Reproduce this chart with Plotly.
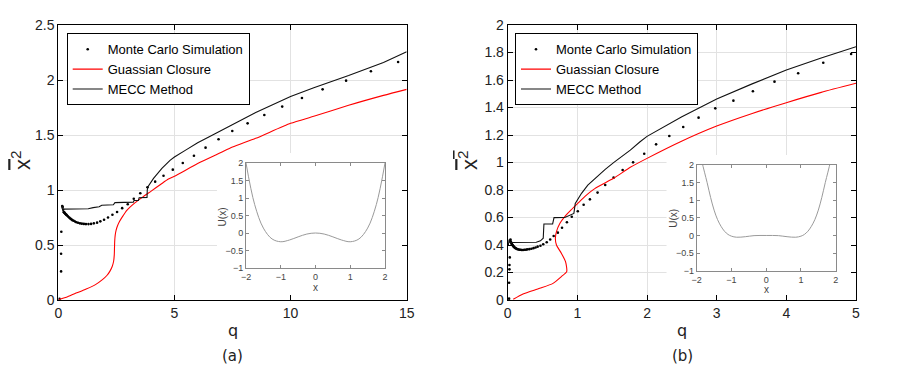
import plotly.graph_objects as go

# ---- panel (a) ----
q_mc_a = [0.05, 0.12, 0.12, 0.13, 0.17, 0.19, 0.21, 0.23, 0.25, 0.27, 0.29, 0.31, 0.34, 0.37, 0.40,
          0.44, 0.48, 0.52, 0.56, 0.61, 0.66, 0.72, 0.78, 0.85, 0.93, 1.01, 1.10, 1.19, 1.30, 1.41,
          1.53, 1.67, 1.81, 1.97, 2.14, 2.33, 2.53, 2.75, 2.99, 3.25, 3.53, 3.84, 4.17, 4.53, 4.93,
          5.36, 5.84, 6.34, 6.90, 7.49, 8.15, 8.87, 9.64, 10.49, 11.38, 12.39, 13.46, 14.63]
v_mc_a = [0.01, 0.26, 0.42, 0.62, 0.855, 0.845, 0.82, 0.80, 0.797, 0.792, 0.787, 0.782, 0.776, 0.77, 0.763,
          0.755, 0.747, 0.74, 0.733, 0.726, 0.72, 0.713, 0.707, 0.702, 0.697, 0.694, 0.692, 0.69, 0.69, 0.692,
          0.697, 0.703, 0.715, 0.73, 0.75, 0.775, 0.80, 0.835, 0.87, 0.92, 0.97, 1.025, 1.076, 1.13, 1.185,
          1.245, 1.312, 1.385, 1.461, 1.536, 1.606, 1.682, 1.758, 1.836, 1.915, 1.994, 2.079, 2.164]

q_gc_a = [0.03, 0.4, 0.8, 1.2, 1.6, 1.9, 2.1, 2.23, 2.32, 2.38, 2.41, 2.42, 2.43, 2.45, 2.49, 2.55,
          2.64, 2.77, 2.95, 3.31, 3.66, 4.0, 4.4, 4.74, 5.0, 6.0, 7.0, 7.5, 8.5, 10.0, 11.0, 12.5, 14.0, 15.0]
v_gc_a = [0.005, 0.03, 0.065, 0.1, 0.14, 0.185, 0.225, 0.265, 0.305, 0.35, 0.41, 0.48, 0.54, 0.59, 0.635, 0.675,
          0.715, 0.76, 0.815, 0.885, 0.94, 0.99, 1.05, 1.10, 1.125, 1.24, 1.34, 1.39, 1.47, 1.606, 1.67, 1.77, 1.86, 1.915]

q_me_a = [0.15, 0.17, 0.2, 0.5, 1.0, 1.29, 1.5, 1.76, 1.87, 2.3, 2.37, 2.44, 2.8, 3.23, 3.26, 3.45,
          3.48, 3.82, 3.83, 3.86, 4.1, 4.46, 4.81, 5.0, 5.5, 6.0, 6.5, 7.0, 7.5, 8.5, 10.0, 11.0, 12.5, 14.0, 15.0]
v_me_a = [0.83, 0.855, 0.826, 0.826, 0.827, 0.83, 0.84, 0.848, 0.862, 0.864, 0.866, 0.885, 0.886, 0.89, 0.905, 0.906,
          0.93, 0.933, 1.0, 1.03, 1.106, 1.197, 1.27, 1.30, 1.365, 1.43, 1.485, 1.54, 1.60, 1.705, 1.85, 1.93,
          2.04, 2.16, 2.257]

# ---- panel (b) ----
q_mc_b = [0.02, 0.02, 0.025, 0.025, 0.03, 0.035, 0.04, 0.044, 0.048, 0.053, 0.057, 0.062, 0.068, 0.074, 0.08,
          0.087, 0.095, 0.103, 0.112, 0.122, 0.133, 0.144, 0.157, 0.17, 0.185, 0.20, 0.22, 0.24, 0.26, 0.28,
          0.31, 0.34, 0.37, 0.40, 0.43, 0.47, 0.51, 0.56, 0.61, 0.66, 0.72, 0.78, 0.85, 0.92, 1.006,
          1.09, 1.18, 1.29, 1.40, 1.52, 1.65, 1.80, 1.96, 2.13, 2.32, 2.52, 2.74, 2.98, 3.24, 3.52,
          3.83, 4.17, 4.53, 4.93]
v_mc_b = [0.01, 0.126, 0.223, 0.255, 0.31, 0.43, 0.44, 0.425, 0.42, 0.415, 0.41, 0.405, 0.40, 0.396, 0.392,
          0.388, 0.384, 0.38, 0.377, 0.374, 0.371, 0.369, 0.367, 0.366, 0.365, 0.364, 0.364, 0.365, 0.366, 0.368,
          0.37, 0.373, 0.377, 0.382, 0.388, 0.395, 0.405, 0.42, 0.44, 0.465, 0.49, 0.525, 0.565, 0.605, 0.645,
          0.693, 0.732, 0.781, 0.836, 0.89, 0.945, 1.001, 1.064, 1.132, 1.193, 1.258, 1.326, 1.394, 1.45, 1.518,
          1.588, 1.649, 1.726, 1.789]

q_gc_b = [0.08, 0.22, 0.46, 0.65, 0.77, 0.847, 0.83, 0.77, 0.70, 0.684, 0.70, 0.75, 0.82, 0.91, 1.02,
          1.106, 1.25, 1.52, 1.76, 2.0, 2.48, 3.0, 3.5, 4.0, 4.5, 5.0]
v_gc_b = [0.005, 0.044, 0.085, 0.121, 0.17, 0.206, 0.279, 0.34, 0.40, 0.445, 0.497, 0.558, 0.606, 0.655, 0.71,
          0.752, 0.81, 0.885, 0.965, 1.03, 1.151, 1.265, 1.355, 1.435, 1.51, 1.576]

q_me_b = [0.01, 0.02, 0.03, 0.05, 0.41, 0.47, 0.51, 0.52, 0.645, 0.665, 0.82, 0.95, 0.97, 1.06, 1.15,
          1.28, 1.4, 1.52, 1.64, 1.76, 1.90, 2.0, 2.5, 3.0, 3.5, 4.0, 4.5, 5.0]
v_me_b = [0.40, 0.44, 0.42, 0.418, 0.42, 0.43, 0.449, 0.553, 0.553, 0.599, 0.60, 0.63, 0.703, 0.776, 0.836,
          0.897, 0.95, 0.999, 1.045, 1.09, 1.151, 1.19, 1.333, 1.462, 1.57, 1.673, 1.76, 1.842]

# ---- insets: potential U(x) ----
x_pot = [-2.0, -1.75, -1.5, -1.25, -1.0, -0.75, -0.5, -0.25, 0.0, 0.25, 0.5, 0.75, 1.0, 1.25, 1.5, 1.75, 2.0]
u_pot_a = [2.0, 0.81, 0.14, -0.17, -0.25, -0.20, -0.11, -0.03, 0.0, -0.03, -0.11, -0.20, -0.25, -0.17, 0.14, 0.81, 2.0]
x_pot_b = [-1.95, -1.85, -1.7, -1.6, -1.5, -1.4, -1.3, -1.2, -1.1, -1.0, -0.85, -0.6, -0.35, 0.0,
           0.35, 0.6, 0.85, 1.0, 1.1, 1.2, 1.3, 1.4, 1.5, 1.6, 1.7, 1.85, 1.95]
u_pot_b = [2.6, 2.1, 1.5, 1.08, 0.72, 0.45, 0.26, 0.12, 0.03, -0.02, -0.05, -0.035, -0.005, 0.0,
           -0.005, -0.035, -0.05, -0.02, 0.03, 0.12, 0.26, 0.45, 0.72, 1.08, 1.5, 2.1, 2.6]

names = ["Monte Carlo Simulation", "Guassian Closure", "MECC Method"]
RED = "#ff0000"
BLK = "#111111"

W, H, OFF = 900, 367, 8   # page body adds 8px, so place things 8px up/left


def px(x):
    return (x - OFF) / W


def py(y):
    return 1 - (y - OFF) / H


fig = go.Figure()
for (xa, ya, leg, mc, gc, me) in [
    ("x", "y", "legend", (q_mc_a, v_mc_a), (q_gc_a, v_gc_a), (q_me_a, v_me_a)),
    ("x2", "y2", "legend2", (q_mc_b, v_mc_b), (q_gc_b, v_gc_b), (q_me_b, v_me_b)),
]:
    fig.add_trace(go.Scatter(x=mc[0], y=mc[1], mode="markers", name=names[0], legend=leg,
                             marker=dict(color="black", size=2.6), xaxis=xa, yaxis=ya))
    fig.add_trace(go.Scatter(x=gc[0], y=gc[1], mode="lines", name=names[1], legend=leg,
                             line=dict(color=RED, width=1.1, shape="spline", smoothing=0.6), xaxis=xa, yaxis=ya))
    fig.add_trace(go.Scatter(x=me[0], y=me[1], mode="lines", name=names[2], legend=leg,
                             line=dict(color=BLK, width=1.1), xaxis=xa, yaxis=ya))

fig.add_trace(go.Scatter(x=x_pot, y=u_pot_a, mode="lines", line=dict(color="#9a9a9a", width=1, shape="spline"),
                         showlegend=False, xaxis="x3", yaxis="y3"))
fig.add_trace(go.Scatter(x=x_pot_b, y=u_pot_b, mode="lines", line=dict(color="#9a9a9a", width=1, shape="spline"),
                         showlegend=False, xaxis="x4", yaxis="y4"))

main_ax = dict(showline=True, linecolor="black", linewidth=1, mirror="ticks", ticks="inside", ticklen=5,
               tickcolor="black", showgrid=True, gridcolor="#e2e2e2", gridwidth=1, zeroline=False,
               automargin=False, tickfont=dict(family="Liberation Sans", size=14, color="#222222"))
ins_ax = dict(showline=True, linecolor="#8a8a8a", linewidth=1, mirror="ticks", ticks="inside", ticklen=3,
              tickcolor="#8a8a8a", showgrid=False, zeroline=False, automargin=False,
              tickfont=dict(family="Liberation Sans", size=9, color="#444444"))

leg_style = dict(xanchor="left", yanchor="top", bordercolor="black", borderwidth=1, bgcolor="white",
                 font=dict(family="Liberation Sans", size=13, color="black"), tracegroupgap=0, itemwidth=30)

fig.update_layout(
    width=W, height=H, margin=dict(l=0, r=0, t=0, b=0, autoexpand=False),
    paper_bgcolor="white", plot_bgcolor="white",
    xaxis=dict(main_ax, domain=[px(58.3), px(406.7)], range=[0, 15], dtick=5, anchor="y"),
    yaxis=dict(main_ax, domain=[py(300), py(25)], range=[0, 2.5], dtick=0.5, anchor="x"),
    xaxis2=dict(main_ax, domain=[px(507.7), px(856)], range=[0, 5], dtick=1, anchor="y2"),
    yaxis2=dict(main_ax, domain=[py(300), py(25)], range=[0, 2], dtick=0.2, anchor="x2"),
    xaxis3=dict(ins_ax, domain=[px(246), px(385)], range=[-2, 2], dtick=1, anchor="y3"),
    yaxis3=dict(ins_ax, domain=[py(268), py(163)], range=[-1, 2], dtick=0.5, anchor="x3"),
    xaxis4=dict(ins_ax, domain=[px(696.7), px(835.7)], range=[-2, 2], dtick=1, anchor="y4"),
    yaxis4=dict(ins_ax, domain=[py(270.7), py(165)], range=[-1, 2], dtick=0.5, anchor="x4"),
    legend=dict(leg_style, x=px(66.7), y=py(33.3)),
    legend2=dict(leg_style, x=px(515), y=py(33.3)),
    showlegend=True,
)

# white areas behind the insets that hide the main grid
fig.add_shape(type="rect", xref="x", yref="y", x0=6.83, x1=15, y0=0, y1=1.336,
              fillcolor="white", line=dict(width=0), layer="between")
fig.add_shape(type="rect", xref="x2", yref="y2", x0=2.28, x1=5, y0=0, y1=1.055,
              fillcolor="white", line=dict(width=0), layer="between")


def label(x, y, text, size, family="Liberation Sans", color="#222222", angle=0):
    return dict(x=px(x), y=py(y), xref="paper", yref="paper", text=text, showarrow=False,
                xanchor="center", yanchor="middle", textangle=angle,
                font=dict(family=family, size=size, color=color))


ann = []
ylab = '<span style="text-decoration:overline">x<sup>2</sup></span>'
for xc, lab in [(232.5, "(a)"), (682, "(b)")]:
    ann.append(label(xc, 330, "q", 16, family="DejaVu Sans"))
    ann.append(label(xc, 356, lab, 15, family="DejaVu Sans"))
for xt in [21, 468]:
    ann.append(label(xt, 160, ylab, 22, angle=-90))
for ux, uy, xx, xy in [(222.7, 216.7, 315, 287.5), (672.7, 218, 766, 289)]:
    ann.append(label(ux, uy, "U(x)", 10, color="#444444", angle=-90))
    ann.append(label(xx, xy, "x", 10, color="#444444"))
fig.update_layout(annotations=ann)

fig.write_html("out.html")
